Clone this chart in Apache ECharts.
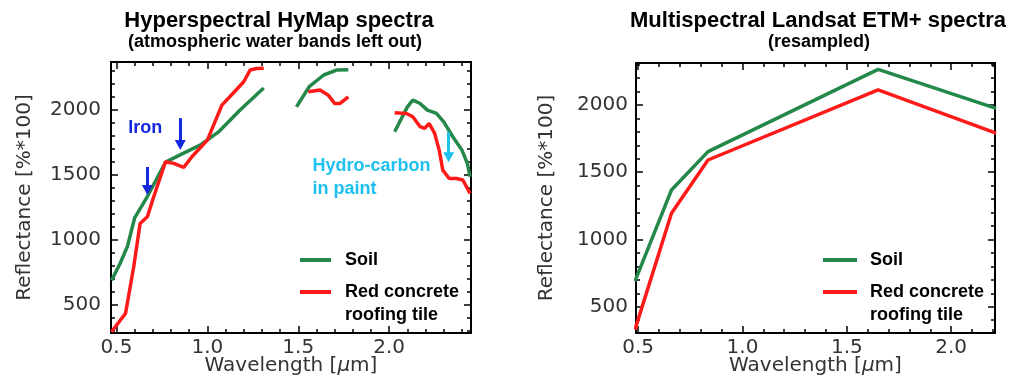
<!DOCTYPE html>
<html><head><meta charset="utf-8">
<script src="https://cdn.jsdelivr.net/npm/echarts@6/dist/echarts.min.js"></script>
<style>html,body{margin:0;padding:0;background:#fff}#c{width:1012px;height:381px}</style>
</head><body><div id="c"></div>
<script>
// ---------- DATA ----------
// Hyperspectral HyMap spectra (null = atmospheric water band left out)
const soilHyX = [0.473, 0.52, 0.56, 0.60, 0.67, 0.77, 0.85, 0.96, 1.06, 1.18, 1.31, null,
                 1.49, 1.56, 1.64, 1.71, 1.775, null,
                 2.03, 2.10, 2.13, 2.17, 2.21, 2.26, 2.30, 2.35, 2.40, 2.43, 2.445];
const soilHyY = [690, 820, 950, 1170, 1335, 1600, 1655, 1730, 1830, 2000, 2170, null,
                 2025, 2180, 2270, 2308, 2310, null,
                 1833, 2025, 2077, 2051, 2000, 1974, 1910, 1795, 1692, 1590, 1487];
const tileHyX = [0.473, 0.55, 0.595, 0.63, 0.67, 0.705, 0.77, 0.815, 0.87, 0.915, 1.00, 1.08, 1.14, 1.20, 1.235, 1.27, 1.31, null,
                 1.555, 1.62, 1.665, 1.70, 1.73, 1.775, null,
                 2.03, 2.095, 2.13, 2.17, 2.195, 2.22, 2.25, 2.275, 2.295, 2.33, 2.37, 2.405, 2.445];
const tileHyY = [295, 436, 795, 1128, 1179, 1333, 1603, 1590, 1559, 1641, 1769, 2038, 2128, 2218, 2308, 2320, 2321, null,
                 2141, 2154, 2115, 2051, 2051, 2102, null,
                 1979, 1974, 1949, 1872, 1859, 1897, 1821, 1692, 1538, 1474, 1474, 1462, 1359];

// Multispectral Landsat ETM+ (resampled)
const landsatX = [0.485, 0.66, 0.835, 1.65, 2.215];
const soilLsY = [690, 1368, 1653, 2265, 1975];
const tileLsY = [330, 1195, 1591, 2112, 1790];

// Tick values
const hyXMajor = [0.5, 1.0, 1.5, 2.0];
const hyXMinor = [0.5, 0.6, 0.7, 0.8, 0.9, 1.0, 1.1, 1.2, 1.3, 1.4, 1.5, 1.6, 1.7, 1.8, 1.9, 2.0, 2.1, 2.2, 2.3, 2.4];
const hyYMajor = [500, 1000, 1500, 2000];
const hyYMinor = [300, 400, 500, 600, 700, 800, 900, 1000, 1100, 1200, 1300, 1400, 1500, 1600, 1700, 1800, 1900, 2000, 2100, 2200, 2300];
const lsXMajor = [0.5, 1.0, 1.5, 2.0];
const lsXMinor = [0.5, 0.6, 0.7, 0.8, 0.9, 1.0, 1.1, 1.2, 1.3, 1.4, 1.5, 1.6, 1.7, 1.8, 1.9, 2.0, 2.1, 2.2];
const lsYMajor = [500, 1000, 1500, 2000];
const lsYMinor = [400, 500, 600, 700, 800, 900, 1000, 1100, 1200, 1300, 1400, 1500, 1600, 1700, 1800, 1900, 2000, 2100, 2200, 2300];

// Annotations (data coordinates)
const arrowX = [0.851, 0.67, 2.327];
const arrowTop = [1938, 1562, 1831];
const arrowEnd = [1731, 1385, 1638];
const ironLabelPos = [0.659, 1862];
const hydroLabelPos = [1.575, 1481];

// ---------- STYLE ----------
const GREEN = '#23884a', RED = '#ff1a1a', BLUE = '#1428e0', CYAN = '#1ec0ee';
const labelFont = {fontFamily: 'DejaVu Sans', fontSize: 20, color: '#333'};

function zip(xs, ys) { return xs.map((x, i) => (x === null ? [null, null] : [x, ys[i]])); }

function axesFor(dim, grid, min, max, major, minor, extra) {
  const pos = dim === 'x' ? ['bottom', 'top'] : ['left', 'right'];
  const base = {type: 'value', gridIndex: grid, min: min, max: max, splitLine: {show: false}, silent: true};
  const line = {show: true, onZero: false, lineStyle: {color: '#000', width: 2}};
  const tickMajor = {show: true, inside: true, length: 7, customValues: major, lineStyle: {color: '#000', width: 1.5}};
  const tickMinor = {show: true, inside: true, length: 4, customValues: minor, lineStyle: {color: '#000', width: 1.5}};
  return [
    Object.assign({}, base, {position: pos[0], axisLine: line, axisTick: tickMajor,
      axisLabel: Object.assign({show: true, customValues: major}, labelFont, extra.label),
      name: extra.name, nameLocation: 'middle', nameGap: extra.nameGap, nameMoveOverlap: false,
      nameTextStyle: Object.assign({}, labelFont, {rich: {i: Object.assign({fontStyle: 'italic'}, labelFont)}})}),
    Object.assign({}, base, {position: pos[0], axisLine: {show: false}, axisTick: tickMinor, axisLabel: {show: false}}),
    Object.assign({}, base, {position: pos[1], axisLine: line, axisTick: tickMajor, axisLabel: {show: false}}),
    Object.assign({}, base, {position: pos[1], axisLine: {show: false}, axisTick: tickMinor, axisLabel: {show: false}})
  ];
}

const xFmt = v => v.toFixed(1);
const yFmt = v => String(Math.round(v));
const xAxes = [].concat(
  axesFor('x', 0, 0.47, 2.45, hyXMajor, hyXMinor, {name: 'Wavelength [{i|μ}m]', nameGap: 23, label: {margin: 5, formatter: xFmt}}),
  axesFor('x', 1, 0.49, 2.21, lsXMajor, lsXMinor, {name: 'Wavelength [{i|μ}m]', nameGap: 23, label: {margin: 5, formatter: xFmt}})
);
const yAxes = [].concat(
  axesFor('y', 0, 285, 2370, hyYMajor, hyYMinor, {name: 'Reflectance [%*100]', nameGap: 76, label: {margin: 10, formatter: yFmt}}),
  axesFor('y', 1, 305, 2312, lsYMajor, lsYMinor, {name: 'Reflectance [%*100]', nameGap: 79, label: {margin: 8, formatter: yFmt}})
);

const legendText = {fontFamily: 'Liberation Sans', fontWeight: 'bold', fontSize: 18, color: '#000', lineHeight: 23};
function legendPair(left, iconW, padL) {
  return [
    {data: ['Soil'], left: left, top: 248.5, padding: 0, icon: 'rect', itemWidth: iconW, itemHeight: 4,
     itemStyle: {borderWidth: 0}, selectedMode: false,
     textStyle: Object.assign({padding: [0, 0, 0, padL]}, legendText)},
    {data: ['Red concrete roofing tile'], left: left, top: 257.5, padding: 0, icon: 'rect', itemWidth: iconW, itemHeight: 4,
     itemStyle: {borderWidth: 0}, selectedMode: false,
     formatter: () => ' \nRed concrete\nroofing tile',
     textStyle: Object.assign({padding: [0, 0, 0, padL]}, legendText)}
  ];
}

const titleFont = 'Liberation Sans';
function titleText(x, y, txt, size) {
  return {type: 'text', x: x, y: y, silent: true,
    style: {text: txt, align: 'center', verticalAlign: 'middle', fontFamily: titleFont, fontWeight: 'bold', fontSize: size, fill: '#000'}};
}

const lineBase = {type: 'line', showSymbol: false, symbol: 'none', connectNulls: false, clip: true, silent: true, animation: false};

const option = {
  animation: false,
  backgroundColor: '#fff',
  grid: [
    {left: 111, top: 62, width: 360, height: 271, outerBoundsMode: 'none', containLabel: false},
    {left: 636, top: 63, width: 359, height: 270, outerBoundsMode: 'none', containLabel: false}
  ],
  xAxis: xAxes,
  yAxis: yAxes,
  legend: [].concat(legendPair(300, 31, 9), legendPair(823, 34, 8)),
  graphic: [
    titleText(279, 21, 'Hyperspectral HyMap spectra', 22),
    titleText(275, 42, '(atmospheric water bands left out)', 18),
    titleText(818, 21, 'Multispectral Landsat ETM+ spectra', 22),
    titleText(819, 42, '(resampled)', 18)
  ],
  series: [
    Object.assign({}, lineBase, {name: 'Soil', xAxisIndex: 0, yAxisIndex: 0, data: zip(soilHyX, soilHyY),
      color: GREEN, lineStyle: {color: GREEN, width: 3.5}}),
    Object.assign({}, lineBase, {name: 'Red concrete roofing tile', xAxisIndex: 0, yAxisIndex: 0, data: zip(tileHyX, tileHyY),
      color: RED, lineStyle: {color: RED, width: 3.5},
      markLine: {silent: true, animation: false, symbol: ['none', 'triangle'], symbolSize: [11, 10],
        label: {show: false}, lineStyle: {type: 'solid', width: 3},
        data: arrowX.map((x, i) => [
          {coord: [x, arrowTop[i]], lineStyle: {color: i < 2 ? BLUE : CYAN, width: 3, type: 'solid'}, itemStyle: {color: i < 2 ? BLUE : CYAN}},
          {coord: [x, arrowEnd[i]]}
        ])},
      markPoint: {silent: true, animation: false, symbol: 'circle', symbolSize: 1, itemStyle: {color: 'rgba(0,0,0,0)'},
        data: [
          {coord: ironLabelPos, label: {show: true, position: 'inside', formatter: 'Iron', color: BLUE,
            fontFamily: 'Liberation Sans', fontWeight: 'bold', fontSize: 18}},
          {coord: hydroLabelPos, label: {show: true, position: 'right', distance: 0, align: 'left', formatter: 'Hydro-carbon\nin paint', color: CYAN,
            fontFamily: 'Liberation Sans', fontWeight: 'bold', fontSize: 18, lineHeight: 23}}
        ]}}),
    Object.assign({}, lineBase, {name: 'Soil', xAxisIndex: 4, yAxisIndex: 4, data: zip(landsatX, soilLsY),
      color: GREEN, lineStyle: {color: GREEN, width: 3.5}}),
    Object.assign({}, lineBase, {name: 'Red concrete roofing tile', xAxisIndex: 4, yAxisIndex: 4, data: zip(landsatX, tileLsY),
      color: RED, lineStyle: {color: RED, width: 3.5}})
  ]
};

const chart = echarts.init(document.getElementById('c'), null, {renderer: 'canvas'});
chart.setOption(option);
</script>
</body></html>
